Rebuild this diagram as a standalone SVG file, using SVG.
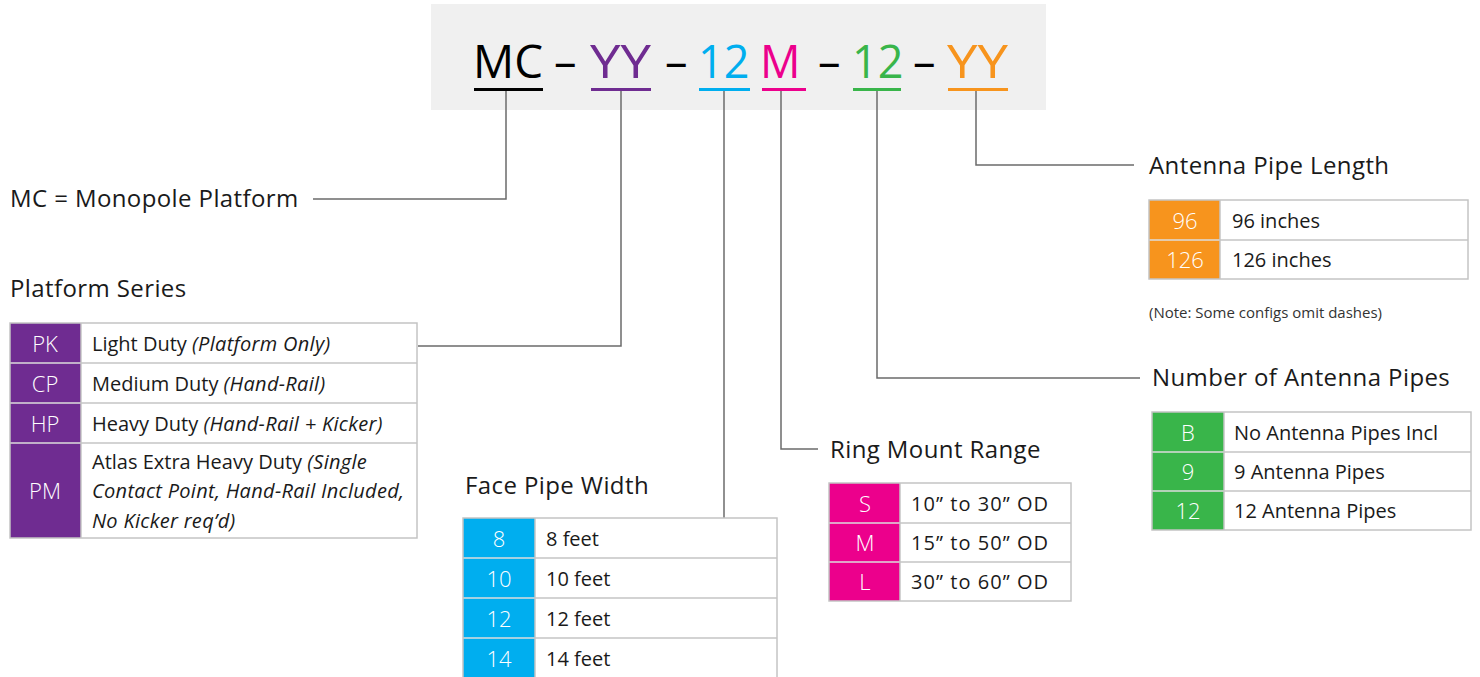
<svg xmlns="http://www.w3.org/2000/svg" width="1480" height="677" viewBox="0 0 1480 677">
<style>
text{font-family:"Open Sans","Noto Sans","Liberation Sans",sans-serif;fill:#1a1a1a}
.big{font-size:45px}
.hd{font-size:24px;letter-spacing:0.4px}
.t{font-size:20px}
.c{font-size:22px;font-weight:300;fill:#fff;text-anchor:middle}
.i{font-style:italic;letter-spacing:0.3px}
.note{font-size:15px;fill:#333}
.grid{fill:none;stroke:#c4c4c4;stroke-width:1.5}
.wl{stroke:#dcdcdc;stroke-width:1.5}
.conn{fill:none;stroke:#6b6b6b;stroke-width:1.5}
</style>
<rect x="431" y="4" width="615" height="106" fill="#f0f0f0"/>
<g id="code">
<text class="big" x="473" y="78" fill="#000" style="fill:#000" textLength="70" lengthAdjust="spacingAndGlyphs">MC</text>
<text class="big" x="554" y="78" style="fill:#000">–</text>
<text class="big" x="590" y="78" style="fill:#6f2c91" textLength="61" lengthAdjust="spacingAndGlyphs">YY</text>
<text class="big" x="665" y="78" style="fill:#000">–</text>
<text class="big" x="698" y="78" style="fill:#00aeef">12</text>
<text class="big" x="760" y="78" style="fill:#ec008c">M</text>
<text class="big" x="818" y="78" style="fill:#000">–</text>
<text class="big" x="852" y="78" style="fill:#39b54a">12</text>
<text class="big" x="913" y="78" style="fill:#000">–</text>
<text class="big" x="947" y="78" style="fill:#f7941d" textLength="61" lengthAdjust="spacingAndGlyphs">YY</text>
<rect x="474" y="88" width="69" height="3" fill="#000"/>
<rect x="591" y="88" width="60" height="3" fill="#6f2c91"/>
<rect x="699" y="88" width="51" height="3" fill="#00aeef"/>
<rect x="762" y="88" width="44" height="3" fill="#ec008c"/>
<rect x="853" y="88" width="48" height="3" fill="#39b54a"/>
<rect x="948" y="88" width="60" height="3" fill="#f7941d"/>
</g>
<g id="connectors">
<polyline class="conn" points="506,91 506,199 313,199"/>
<polyline class="conn" points="621,91 621,346 418,346"/>
<polyline class="conn" points="724,91 724,518"/>
<polyline class="conn" points="781,91 781,449 818,449"/>
<polyline class="conn" points="877,91 877,378 1140,378"/>
<polyline class="conn" points="976,91 976,165 1134,165"/>
</g>
<g id="monopole">
<text class="hd" x="10" y="207">MC = Monopole Platform</text>
</g>
<g id="platform-series">
<text class="hd" x="10" y="297">Platform Series</text>
<rect x="10" y="323" width="71" height="215" fill="#6f2c91"/>
<line class="wl" x1="10" y1="363" x2="81" y2="363"/>
<line class="wl" x1="10" y1="403" x2="81" y2="403"/>
<line class="wl" x1="10" y1="443" x2="81" y2="443"/>
<rect class="grid" x="10" y="323" width="407" height="215"/>
<line class="grid" x1="81" y1="363" x2="417" y2="363"/>
<line class="grid" x1="81" y1="403" x2="417" y2="403"/>
<line class="grid" x1="81" y1="443" x2="417" y2="443"/>
<line class="grid" x1="81" y1="323" x2="81" y2="538"/>
<text class="c" x="45" y="352">PK</text>
<text class="c" x="45" y="392">CP</text>
<text class="c" x="45" y="432">HP</text>
<text class="c" x="45" y="499">PM</text>
<text class="t" x="92" y="351">Light Duty <tspan class="i">(Platform Only)</tspan></text>
<text class="t" x="92" y="391">Medium Duty <tspan class="i">(Hand-Rail)</tspan></text>
<text class="t" x="92" y="431">Heavy Duty <tspan class="i">(Hand-Rail + Kicker)</tspan></text>
<text class="t" x="92" y="469">Atlas Extra Heavy Duty <tspan class="i">(Single</tspan></text>
<text class="t i" x="92" y="498">Contact Point, Hand-Rail Included,</text>
<text class="t i" x="92" y="528">No Kicker req’d)</text>
</g>
<g id="face-pipe-width">
<text class="hd" x="465" y="494">Face Pipe Width</text>
<rect x="463" y="518" width="72" height="160" fill="#00aeef"/>
<line class="wl" x1="463" y1="558" x2="535" y2="558"/>
<line class="wl" x1="463" y1="598" x2="535" y2="598"/>
<line class="wl" x1="463" y1="638" x2="535" y2="638"/>
<rect class="grid" x="463" y="518" width="314" height="162"/>
<line class="grid" x1="535" y1="558" x2="777" y2="558"/>
<line class="grid" x1="535" y1="598" x2="777" y2="598"/>
<line class="grid" x1="535" y1="638" x2="777" y2="638"/>
<line class="grid" x1="535" y1="518" x2="535" y2="677"/>
<text class="c" x="499" y="547">8</text>
<text class="c" x="499" y="587">10</text>
<text class="c" x="499" y="627">12</text>
<text class="c" x="499" y="667">14</text>
<text class="t" x="546" y="546">8 feet</text>
<text class="t" x="546" y="586">10 feet</text>
<text class="t" x="546" y="626">12 feet</text>
<text class="t" x="546" y="666">14 feet</text>
</g>
<g id="ring-mount-range">
<text class="hd" x="830" y="458">Ring Mount Range</text>
<rect x="829" y="483" width="71" height="118" fill="#ec008c"/>
<line class="wl" x1="829" y1="523" x2="900" y2="523"/>
<line class="wl" x1="829" y1="562" x2="900" y2="562"/>
<rect class="grid" x="829" y="483" width="242" height="118"/>
<line class="grid" x1="900" y1="523" x2="1071" y2="523"/>
<line class="grid" x1="900" y1="562" x2="1071" y2="562"/>
<line class="grid" x1="900" y1="483" x2="900" y2="601"/>
<text class="c" x="865" y="512">S</text>
<text class="c" x="865" y="551">M</text>
<text class="c" x="865" y="590">L</text>
<text class="t" x="911" y="511" textLength="137">10” to 30” OD</text>
<text class="t" x="911" y="550" textLength="137">15” to 50” OD</text>
<text class="t" x="911" y="589" textLength="137">30” to 60” OD</text>
</g>
<g id="antenna-pipe-length">
<text class="hd" x="1149" y="174">Antenna Pipe Length</text>
<rect x="1149" y="200" width="71" height="79" fill="#f7941d"/>
<line class="wl" x1="1149" y1="240" x2="1220" y2="240"/>
<rect class="grid" x="1149" y="200" width="319" height="79"/>
<line class="grid" x1="1220" y1="240" x2="1468" y2="240"/>
<line class="grid" x1="1220" y1="200" x2="1220" y2="279"/>
<text class="c" x="1185" y="229">96</text>
<text class="c" x="1185" y="268">126</text>
<text class="t" x="1232" y="228">96 inches</text>
<text class="t" x="1232" y="267">126 inches</text>
<text class="note" x="1149" y="318">(Note: Some configs omit dashes)</text>
</g>
<g id="number-of-antenna-pipes">
<text class="hd" x="1152" y="386">Number of Antenna Pipes</text>
<rect x="1152" y="412" width="72" height="118" fill="#39b54a"/>
<line class="wl" x1="1152" y1="452" x2="1224" y2="452"/>
<line class="wl" x1="1152" y1="491" x2="1224" y2="491"/>
<rect class="grid" x="1152" y="412" width="319" height="118"/>
<line class="grid" x1="1224" y1="452" x2="1471" y2="452"/>
<line class="grid" x1="1224" y1="491" x2="1471" y2="491"/>
<line class="grid" x1="1224" y1="412" x2="1224" y2="530"/>
<text class="c" x="1188" y="441">B</text>
<text class="c" x="1188" y="480">9</text>
<text class="c" x="1188" y="519">12</text>
<text class="t" x="1234" y="440">No Antenna Pipes Incl</text>
<text class="t" x="1234" y="479">9 Antenna Pipes</text>
<text class="t" x="1234" y="518">12 Antenna Pipes</text>
</g>
</svg>
